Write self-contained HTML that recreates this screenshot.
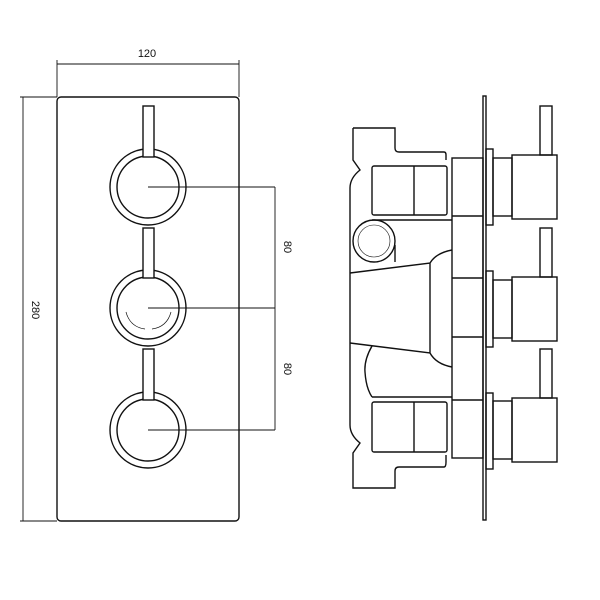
<!DOCTYPE html>
<html><head><style>
html,body{margin:0;padding:0;background:#fff;}
svg{display:block;}
text{font-family:"Liberation Sans",sans-serif;font-size:11px;fill:#111;}
</style></head><body>
<svg width="600" height="600" viewBox="0 0 600 600" fill="none" stroke="#111" stroke-width="1.4">
<!-- left: front view -->
<rect x="57" y="97" width="182" height="424" rx="4"/>
<g stroke-width="0.9">
<line x1="57" y1="64" x2="239" y2="64"/>
<line x1="57" y1="60" x2="57" y2="97"/>
<line x1="239" y1="60" x2="239" y2="97"/>
<line x1="23" y1="97" x2="23" y2="521"/>
<line x1="20" y1="97" x2="57" y2="97"/>
<line x1="20" y1="521" x2="57" y2="521"/>
<line x1="148" y1="187" x2="275" y2="187"/>
<line x1="148" y1="308" x2="275" y2="308"/>
<line x1="148" y1="430" x2="275" y2="430"/>
<line x1="275" y1="187" x2="275" y2="430"/>
</g>
<text x="147" y="57" text-anchor="middle" stroke="none">120</text>
<text transform="translate(32,310) rotate(90)" text-anchor="middle" stroke="none">280</text>
<text transform="translate(284,247) rotate(90)" text-anchor="middle" stroke="none">80</text>
<text transform="translate(284,369) rotate(90)" text-anchor="middle" stroke="none">80</text>
<g>
<circle cx="148" cy="187" r="38"/><circle cx="148" cy="187" r="31"/>
<rect x="143" y="106" width="11" height="51" fill="#fff"/>
<circle cx="148" cy="308" r="38"/><circle cx="148" cy="308" r="31"/>
<rect x="143" y="228" width="11" height="50" fill="#fff"/>
<circle cx="148" cy="430" r="38"/><circle cx="148" cy="430" r="31"/>
<rect x="143" y="349" width="11" height="51" fill="#fff"/>
<path d="M126 312 Q130 327 145 329 M171 312 Q167 327 152 329" stroke-width="0.7"/>
</g>
<!-- right: side view -->
<path d="M353 128 H395 V148 Q395 152 399 152 H444 Q446 152 446 155 V160
 M353 128 V160 L360 170 Q350 178 350 188 V425 Q350 435 360 443 L353 453 V488 H395 V471 Q395 467 399 467 H444 Q446 467 446 462 V455"/>
<rect x="372" y="166" width="75" height="49" rx="2"/>
<line x1="414" y1="166" x2="414" y2="215"/>
<rect x="372" y="402" width="75" height="50" rx="2"/>
<line x1="414" y1="402" x2="414" y2="452"/>
<line x1="372" y1="220" x2="452" y2="220"/>
<line x1="372" y1="397" x2="452" y2="397"/>
<path d="M372 346 Q364 360 365 372 Q366 388 372 397" />
<circle cx="374" cy="241" r="21"/><circle cx="374" cy="241" r="16" stroke-width="0.6"/>
<line x1="395" y1="245" x2="395" y2="262"/>
<path d="M350 273 L430 263 V353 L350 343 M430 263 Q436 253 452 250 M430 353 Q436 364 452 367"/>
<rect x="452" y="158" width="31" height="300"/>
<line x1="452" y1="216" x2="483" y2="216"/>
<line x1="452" y1="278" x2="483" y2="278"/>
<line x1="452" y1="337" x2="483" y2="337"/>
<line x1="452" y1="400" x2="483" y2="400"/>
<rect x="483" y="96" width="3" height="424"/>
<rect x="486" y="149" width="7" height="76"/>
<rect x="486" y="271" width="7" height="76"/>
<rect x="486" y="393" width="7" height="76"/>
<rect x="493" y="158" width="19" height="58"/>
<rect x="493" y="280" width="19" height="58"/>
<rect x="493" y="401" width="19" height="58"/>
<rect x="512" y="155" width="45" height="64"/>
<rect x="512" y="277" width="45" height="64"/>
<rect x="512" y="398" width="45" height="64"/>
<rect x="540" y="106" width="12" height="49"/>
<rect x="540" y="228" width="12" height="49"/>
<rect x="540" y="349" width="12" height="49"/>
</svg>
</body></html>
